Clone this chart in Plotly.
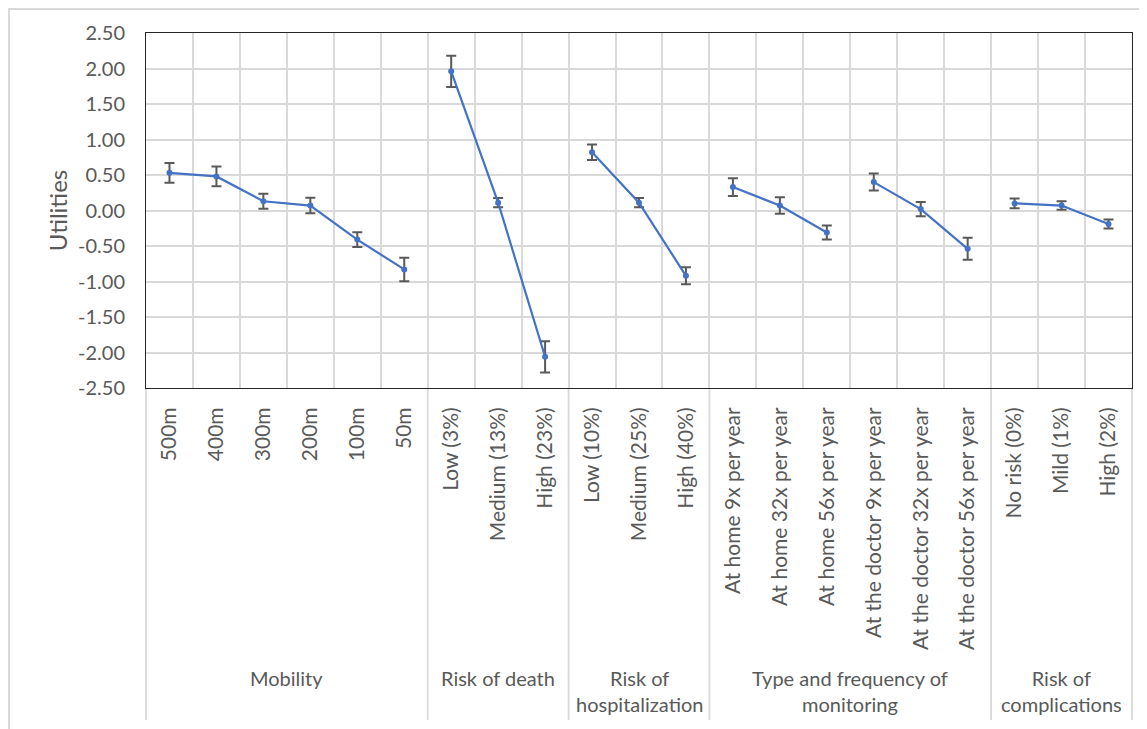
import plotly.graph_objects as go

# ---------------- data ----------------
attributes = ["Mobility", "Risk of death", "Risk of<br>hospitalization",
              "Type and frequency of<br>monitoring", "Risk of<br>complications"]

mobility_levels = ["500m", "400m", "300m", "200m", "100m", "50m"]
mobility_util = [0.53, 0.48, 0.13, 0.07, -0.41, -0.83]
mobility_err = [0.14, 0.14, 0.105, 0.11, 0.105, 0.165]

death_levels = ["Low (3%)", "Medium (13%)", "High (23%)"]
death_util = [1.96, 0.11, -2.06]
death_err = [0.22, 0.065, 0.22]

hosp_levels = ["Low (10%)", "Medium (25%)", "High (40%)"]
hosp_util = [0.82, 0.11, -0.92]
hosp_err = [0.11, 0.065, 0.12]

home_levels = ["At home 9x per year", "At home 32x per year", "At home 56x per year"]
home_util = [0.33, 0.07, -0.31]
home_err = [0.125, 0.115, 0.10]

doctor_levels = ["At the doctor 9x per year", "At the doctor 32x per year",
                 "At the doctor 56x per year"]
doctor_util = [0.40, 0.02, -0.54]
doctor_err = [0.12, 0.10, 0.155]

compl_levels = ["No risk (0%)", "Mild (1%)", "High (2%)"]
compl_util = [0.10, 0.07, -0.19]
compl_err = [0.07, 0.06, 0.065]

y_ticks = [2.5, 2.0, 1.5, 1.0, 0.5, 0.0, -0.5, -1.0, -1.5, -2.0, -2.5]
y_tick_text = [f"{v:.2f}" for v in y_ticks]

# line segments (each drawn as its own connected line)
segments = [
    (mobility_levels, mobility_util, mobility_err),
    (death_levels, death_util, death_err),
    (hosp_levels, hosp_util, hosp_err),
    (home_levels, home_util, home_err),
    (doctor_levels, doctor_util, doctor_err),
    (compl_levels, compl_util, compl_err),
]
# attribute groups (levels per attribute)
groups = [mobility_levels, death_levels, hosp_levels,
          home_levels + doctor_levels, compl_levels]

all_levels = [lv for g in groups for lv in g]
n_cat = len(all_levels)

# ---------------- style ----------------
BLUE = "#4472C4"
TXT = "#595959"
GRID = "#D9D9D9"
FONT = "Lato"

fig = go.Figure()
for lv, ut, er in segments:
    fig.add_trace(go.Scatter(
        x=lv, y=ut, mode="lines+markers",
        line=dict(color=BLUE, width=2.2),
        marker=dict(color=BLUE, size=6),
        error_y=dict(type="data", array=er, visible=True,
                     color="#595959", thickness=2, width=5),
        showlegend=False, hoverinfo="x+y",
    ))

# page body has an 8px margin -> figure starts at (8, 8) on screen
PAGE = 8
PL, PT, PR, PB = 146, 33, 1132, 388      # plot-area edges on screen
W, H = 1147 - PAGE, 729 - PAGE
ml, mt = PL - PAGE, PT - PAGE
pw, ph = PR - PL, PB - PT
mr, mb = W - ml - pw, H - mt - ph


def px(X):
    return (X - PL) / pw


def py(Y):
    return (PB - Y) / ph


shapes = []
# vertical group dividers below the axis
cum = 0
bounds = [0]
for g in groups:
    cum += len(g)
    bounds.append(cum)
for b in bounds:
    shapes.append(dict(type="line", xref="paper", yref="paper",
                       x0=b / n_cat, x1=b / n_cat, y0=0, y1=py(720),
                       line=dict(color=GRID, width=1.8), layer="below"))
# outer chart border
shapes.append(dict(type="rect", xref="paper", yref="paper",
                   x0=px(9), x1=px(1160), y0=py(745), y1=py(9),
                   line=dict(color=GRID, width=2), fillcolor="rgba(0,0,0,0)",
                   layer="below"))

annotations = []
start = 0
for name, g in zip(attributes, groups):
    center = start + (len(g) - 1) / 2
    annotations.append(dict(
        x=center, xref="x", y=py(664), yref="paper",
        yanchor="top", xanchor="center", showarrow=False,
        text=name, font=dict(family=FONT, size=20, color=TXT),
        align="center",
    ))
    start += len(g)

fig.update_layout(
    width=W, height=H,
    margin=dict(l=ml, r=mr, t=mt, b=mb, pad=0),
    paper_bgcolor="white", plot_bgcolor="white",
    font=dict(family=FONT, size=20, color=TXT),
    shapes=shapes, annotations=annotations,
    xaxis=dict(
        type="category", categoryorder="array", categoryarray=all_levels,
        range=[-0.5, n_cat - 0.5], tickson="boundaries",
        showgrid=True, gridcolor=GRID, gridwidth=1.8,
        showline=True, linecolor="#262626", linewidth=1, mirror=True,
        tickangle=-90, ticks="", ticklabelstandoff=10,
        tickfont=dict(family=FONT, size=21, color=TXT),
    ),
    yaxis=dict(
        range=[-2.5, 2.5], tickvals=y_ticks, ticktext=y_tick_text,
        showgrid=True, gridcolor=GRID, gridwidth=1.8, zeroline=False,
        showline=True, linecolor="#262626", linewidth=1, mirror=True,
        ticks="", ticklabelstandoff=16,
        tickfont=dict(family=FONT, size=20, color=TXT),
        title=dict(text="Utilities", standoff=3,
                   font=dict(family=FONT, size=24, color=TXT)),
    ),
)

fig.write_html("out.html")
